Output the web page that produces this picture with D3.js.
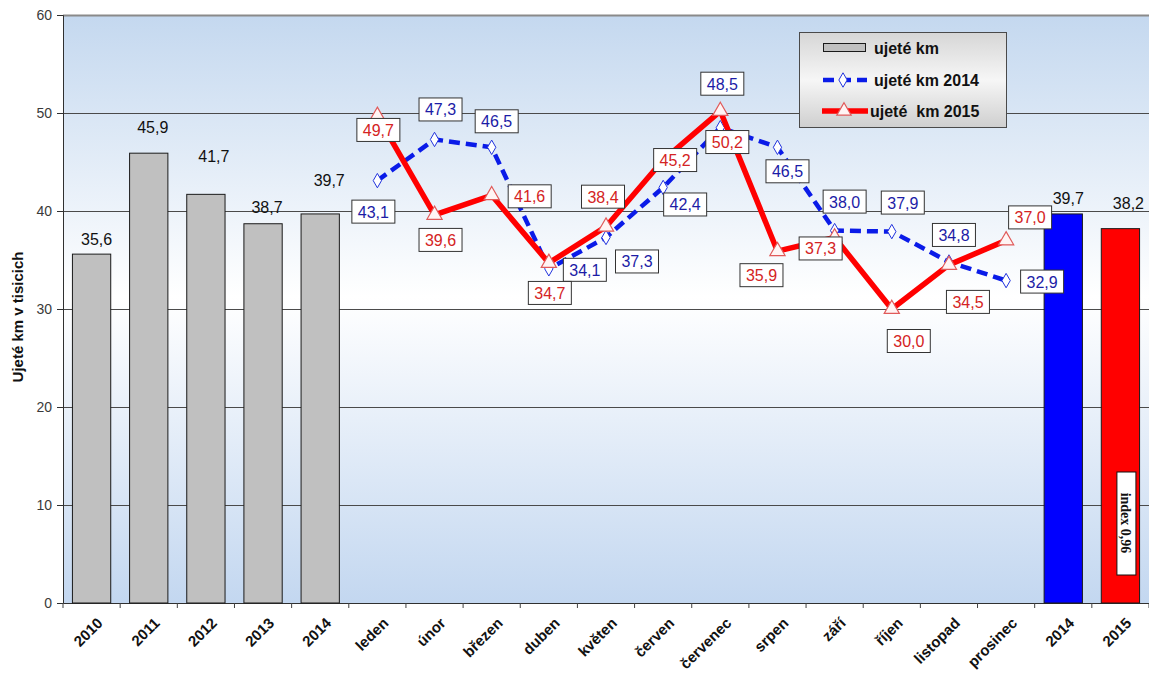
<!DOCTYPE html>
<html>
<head>
<meta charset="utf-8">
<script src="https://cdn.jsdelivr.net/npm/d3@7"></script>
<style>
  html, body { margin: 0; padding: 0; background: #ffffff; }
  svg { display: block; font-family: Arial, "Liberation Sans", sans-serif; }
</style>
</head>
<body>
<svg id="chart" width="1149" height="675"></svg>
<script>
// ---- data ----
const yearCats = ["2010", "2011", "2012", "2013", "2014"];
const yearKm = [35.6, 45.9, 41.7, 38.7, 39.7];

const months = ["leden", "únor", "březen", "duben", "květen", "červen",
  "červenec", "srpen", "září", "říjen", "listopad", "prosinec"];
const km2014 = [43.1, 47.3, 46.5, 34.1, 37.3, 42.4, 48.5, 46.5, 38.0, 37.9, 34.8, 32.9];
const km2015 = [49.7, 39.6, 41.6, 34.7, 38.4, 45.2, 50.2, 35.9, 37.3, 30.0, 34.5, 37.0];

const totalCats = ["2014", "2015"];
const totalKm = [39.7, 38.2];
const indexLabel = "index 0,96";

const yTicks = [0, 10, 20, 30, 40, 50, 60];
const yTitle = "Ujeté km v tisicich";
const legendLabels = ["ujeté km", "ujeté km 2014", "ujeté  km 2015"];

// ---- layout: label nudges (px) relative to each mark ----
const yearLabelNudge = [[5, -15], [4, -26], [8, -38], [4, -17], [9, -34]];
const totalLabelNudge = [[5, -16], [8, -26]];
const nudge2014 = [[-4, 31], [6, -30], [5, -26], [36, 1], [31, 24], [22, 17],
  [2, -44], [10, 24], [10, -29], [11, -29], [5, -27], [36, 1]];
const nudge2015 = [[1, 14], [6, 25], [38, 1], [1, 30], [-3, -30], [12, 0],
  [7, 31], [-16, 24], [-14, 11], [17, 32], [19, 37], [24, -23]];

// ---- scales ----
const categories = [...yearCats, ...months, ...totalCats];
const plotL = 63, plotR = 1149, plotT = 15, plotB = 603;
const x = d3.scaleBand().domain(d3.range(categories.length)).range([plotL, plotR]);
const y = d3.scaleLinear().domain([0, 60]).range([plotB, plotT]);
const cx = i => x(i) + x.bandwidth() / 2;
const barW = x.bandwidth() * 0.67;
const fmt = d => d3.format(".1f")(d).replace(".", ",");

const svg = d3.select("#chart");
const defs = svg.append("defs");

// plot background: blue at top and bottom, white in the middle
const bg = defs.append("linearGradient").attr("id", "plotBg")
  .attr("x1", 0).attr("y1", 0).attr("x2", 0).attr("y2", 1);
bg.append("stop").attr("offset", "0%").attr("stop-color", "#c4d8ef");
bg.append("stop").attr("offset", "48%").attr("stop-color", "#ffffff");
bg.append("stop").attr("offset", "100%").attr("stop-color", "#c3d7f0");

const lg = defs.append("linearGradient").attr("id", "legendBg")
  .attr("x1", 0).attr("y1", 0).attr("x2", 0).attr("y2", 1);
lg.append("stop").attr("offset", "0%").attr("stop-color", "#d6d6d6");
lg.append("stop").attr("offset", "50%").attr("stop-color", "#f6f6f6");
lg.append("stop").attr("offset", "100%").attr("stop-color", "#cfcfcf");

svg.append("rect")
  .attr("x", plotL).attr("y", plotT)
  .attr("width", plotR - plotL).attr("height", plotB - plotT)
  .attr("fill", "url(#plotBg)");

// gridlines
svg.append("g").selectAll("line")
  .data(yTicks.filter(t => t > 0))
  .join("line")
  .attr("x1", plotL).attr("x2", plotR)
  .attr("y1", d => Math.round(y(d)) + 0.5).attr("y2", d => Math.round(y(d)) + 0.5)
  .attr("stroke", d => d === 60 ? "#8a8a8a" : "#4a4a4a")
  .attr("stroke-width", d => d === 60 ? 2 : 1);

// y axis
const yAxis = svg.append("g")
  .attr("transform", `translate(${plotL},0)`)
  .call(d3.axisLeft(y).tickValues(yTicks).tickSize(6).tickPadding(5).tickFormat(d3.format("d")));
yAxis.select(".domain").attr("stroke", "#303030");
yAxis.selectAll(".tick line").attr("stroke", "#303030");
yAxis.selectAll(".tick text").attr("fill", "#3a3a3a").attr("font-size", 14)
  .attr("font-family", "Arial, 'Liberation Sans', sans-serif");

svg.append("text")
  .attr("transform", `translate(23,${(plotT + plotB) / 2 + 8}) rotate(-90)`)
  .attr("text-anchor", "middle")
  .attr("font-size", 15).attr("font-weight", "bold").attr("fill", "#111")
  .text(yTitle);

// x axis
const xAxis = svg.append("g")
  .attr("transform", `translate(0,${plotB})`)
  .call(d3.axisBottom(x).tickSize(0).tickFormat(i => categories[i]));
xAxis.select(".domain").attr("stroke", "#303030").attr("stroke-width", 1.2);
xAxis.selectAll(".tick text")
  .attr("font-size", 15).attr("font-weight", "bold").attr("fill", "#111")
  .attr("text-anchor", "end")
  .attr("y", 0).attr("dy", 0)
  .attr("transform", "translate(12,21) rotate(-45)");
// boundary tick marks between categories
svg.append("g").selectAll("line")
  .data(d3.range(categories.length + 1))
  .join("line")
  .attr("x1", i => plotL + i * x.step()).attr("x2", i => plotL + i * x.step())
  .attr("y1", plotB).attr("y2", plotB + 5)
  .attr("stroke", "#404040");

// yearly bars (grey)
svg.append("g").selectAll("rect")
  .data(yearKm)
  .join("rect")
  .attr("x", (d, i) => cx(i) - barW / 2)
  .attr("y", d => y(d))
  .attr("width", barW)
  .attr("height", d => y(0) - y(d))
  .attr("fill", "#c0c0c0").attr("stroke", "#1a1a1a").attr("stroke-width", 1);

svg.append("g").selectAll("text")
  .data(yearKm)
  .join("text")
  .attr("x", (d, i) => cx(i) + yearLabelNudge[i][0])
  .attr("y", (d, i) => y(d) + yearLabelNudge[i][1] + 6)
  .attr("text-anchor", "middle").attr("font-size", 16).attr("fill", "#111")
  .text(fmt);

// totals bars (blue 2014, red 2015)
const totalColors = ["#0000ff", "#ff0000"];
const offT = yearCats.length + months.length;
svg.append("g").selectAll("rect")
  .data(totalKm)
  .join("rect")
  .attr("x", (d, i) => cx(offT + i) - barW / 2)
  .attr("y", d => y(d))
  .attr("width", barW)
  .attr("height", d => y(0) - y(d))
  .attr("fill", (d, i) => totalColors[i]).attr("stroke", "#1a1a1a").attr("stroke-width", 1);

svg.append("g").selectAll("text")
  .data(totalKm)
  .join("text")
  .attr("x", (d, i) => cx(offT + i) + totalLabelNudge[i][0])
  .attr("y", (d, i) => y(d) + totalLabelNudge[i][1] + 6)
  .attr("text-anchor", "middle").attr("font-size", 16).attr("fill", "#111")
  .text(fmt);

// index box inside the 2015 bar
const idxX = cx(offT + 1) + 6, idxY = y(10) + 18;
svg.append("rect")
  .attr("x", idxX - 9.5).attr("y", idxY - 51)
  .attr("width", 19).attr("height", 103)
  .attr("fill", "#ffffff").attr("stroke", "#111").attr("stroke-width", 1);
svg.append("text")
  .attr("transform", `translate(${idxX - 5},${idxY}) rotate(90)`)
  .attr("text-anchor", "middle")
  .attr("font-family", "'Liberation Serif', 'Times New Roman', serif")
  .attr("font-size", 14).attr("font-weight", "bold").attr("fill", "#111")
  .text(indexLabel);

// monthly lines
const offM = yearCats.length;
const line = d3.line().x((d, i) => cx(offM + i)).y(d => y(d));

svg.append("path")
  .datum(km2014)
  .attr("d", line)
  .attr("fill", "none").attr("stroke", "#0a1be8").attr("stroke-width", 4.5)
  .attr("stroke-dasharray", "11,6");
svg.append("g").selectAll("path")
  .data(km2014)
  .join("path")
  .attr("transform", (d, i) => `translate(${cx(offM + i)},${y(d)})`)
  .attr("d", d3.symbol(d3.symbolDiamond, 60))
  .attr("fill", "#ffffff").attr("stroke", "#2233dd").attr("stroke-width", 1);

svg.append("path")
  .datum(km2015)
  .attr("d", line)
  .attr("fill", "none").attr("stroke", "#ff0000").attr("stroke-width", 5.5)
  .attr("stroke-linejoin", "round");
svg.append("g").selectAll("path")
  .data(km2015)
  .join("path")
  .attr("transform", (d, i) => `translate(${cx(offM + i)},${y(d)})`)
  .attr("d", d3.symbol(d3.symbolTriangle, 100))
  .attr("fill", "#fff4f4").attr("stroke", "#e05a5a").attr("stroke-width", 1.2);

// boxed value labels
function boxedLabels(values, nudge, color) {
  const g = svg.append("g").selectAll("g")
    .data(values)
    .join("g")
    .attr("transform", (d, i) => `translate(${cx(offM + i) + nudge[i][0]},${y(d) + nudge[i][1]})`);
  g.append("rect")
    .attr("x", -21.5).attr("y", -11.5).attr("width", 43).attr("height", 23)
    .attr("fill", "#ffffff").attr("stroke", "#333").attr("stroke-width", 1);
  g.append("text")
    .attr("text-anchor", "middle").attr("dy", 6)
    .attr("font-size", 16).attr("fill", color)
    .text(fmt);
}
boxedLabels(km2014, nudge2014, "#1c1ca6");
boxedLabels(km2015, nudge2015, "#d42323");

// legend
const leg = svg.append("g");
leg.append("rect")
  .attr("x", 799.5).attr("y", 32.5).attr("width", 207).attr("height", 95)
  .attr("fill", "url(#legendBg)").attr("stroke", "#4a4a4a").attr("stroke-width", 1);
leg.append("rect")
  .attr("x", 823.5).attr("y", 43.5).attr("width", 42).attr("height", 8)
  .attr("fill", "#c0c0c0").attr("stroke", "#1a1a1a");
leg.append("line")
  .attr("x1", 823).attr("x2", 867).attr("y1", 80).attr("y2", 80)
  .attr("stroke", "#0a1be8").attr("stroke-width", 4.5).attr("stroke-dasharray", "11,6");
leg.append("path")
  .attr("transform", "translate(843,80)")
  .attr("d", d3.symbol(d3.symbolDiamond, 60))
  .attr("fill", "#ffffff").attr("stroke", "#2233dd");
leg.append("line")
  .attr("x1", 822).attr("x2", 868).attr("y1", 111).attr("y2", 111)
  .attr("stroke", "#ff0000").attr("stroke-width", 5.5);
leg.append("path")
  .attr("transform", "translate(844,111)")
  .attr("d", d3.symbol(d3.symbolTriangle, 90))
  .attr("fill", "#fff4f4").attr("stroke", "#e05a5a").attr("stroke-width", 1.2);
leg.selectAll("text.lg")
  .data(legendLabels)
  .join("text")
  .attr("class", "lg")
  .attr("x", (d, i) => i === 2 ? 870 : 874)
  .attr("y", (d, i) => [54, 86, 117][i])
  .attr("font-size", 16).attr("font-weight", "bold").attr("fill", "#111")
  .style("white-space", "pre")
  .text(d => d);
</script>
</body>
</html>
